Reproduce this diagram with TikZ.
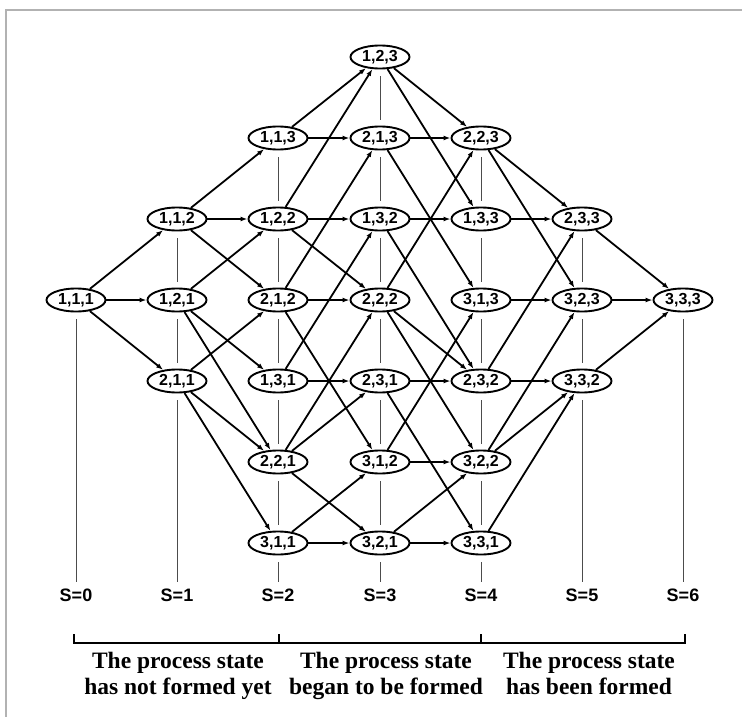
\documentclass[tikz,border=0pt]{standalone}
\usepackage{fontspec}
\setmainfont{Liberation Serif}
\setsansfont{Liberation Sans}
\usetikzlibrary{arrows.meta,shapes.geometric}
\begin{document}
\begin{tikzpicture}[x=1pt,y=-1pt,
  st/.style={ellipse,draw,line width=1.9pt,minimum width=59pt,minimum height=23pt,inner sep=0pt,
    font=\sffamily\bfseries\fontsize{16}{16}\selectfont},
  edge/.style={line width=1.8pt,-{Latex[length=7pt,width=5pt]}},
  guide/.style={line width=1pt,draw=black!70,shorten <=7pt,shorten >=6pt},
  slabel/.style={inner sep=0pt,font=\sffamily\bfseries\fontsize{18}{18}\selectfont},
  phase/.style={inner sep=0pt,anchor=north,align=center,
    font=\rmfamily\bfseries\fontsize{23.5}{26}\selectfont},
  frame/.style={draw=black!30,line width=1.5pt},
  bracket/.style={line width=2.2pt}]
\useasboundingbox (0,0) rectangle (742,717);
\draw[frame] (6,717) -- (6,10) -- (742,10);
% S=0
\node[st] (n111) at (76,300) {1,1,1};
% S=1
\node[st] (n112) at (177,219) {1,1,2};
\node[st] (n121) at (177,300) {1,2,1};
\node[st] (n211) at (177,381) {2,1,1};
% S=2
\node[st] (n113) at (278,138) {1,1,3};
\node[st] (n122) at (278,219) {1,2,2};
\node[st] (n212) at (278,300) {2,1,2};
\node[st] (n131) at (278,381) {1,3,1};
\node[st] (n221) at (278,462) {2,2,1};
\node[st] (n311) at (278,543) {3,1,1};
% S=3
\node[st] (n123) at (380,57) {1,2,3};
\node[st] (n213) at (380,138) {2,1,3};
\node[st] (n132) at (380,219) {1,3,2};
\node[st] (n222) at (380,300) {2,2,2};
\node[st] (n231) at (380,381) {2,3,1};
\node[st] (n312) at (380,462) {3,1,2};
\node[st] (n321) at (380,543) {3,2,1};
% S=4
\node[st] (n223) at (481,138) {2,2,3};
\node[st] (n133) at (481,219) {1,3,3};
\node[st] (n313) at (481,300) {3,1,3};
\node[st] (n232) at (481,381) {2,3,2};
\node[st] (n322) at (481,462) {3,2,2};
\node[st] (n331) at (481,543) {3,3,1};
% S=5
\node[st] (n233) at (582,219) {2,3,3};
\node[st] (n323) at (582,300) {3,2,3};
\node[st] (n332) at (582,381) {3,3,2};
% S=6
\node[st] (n333) at (683,300) {3,3,3};
% S labels
\node[slabel] (s0) at (76,595) {S=0};
\node[slabel] (s1) at (177,595) {S=1};
\node[slabel] (s2) at (278,595) {S=2};
\node[slabel] (s3) at (380,595) {S=3};
\node[slabel] (s4) at (481,595) {S=4};
\node[slabel] (s5) at (582,595) {S=5};
\node[slabel] (s6) at (683,595) {S=6};
% guide lines
\foreach \a/\b in {n111/s0,
  n112/n121,n121/n211,n211/s1,
  n113/n122,n122/n212,n212/n131,n131/n221,n221/n311,n311/s2,
  n123/n213,n213/n132,n132/n222,n222/n231,n231/n312,n312/n321,n321/s3,
  n223/n133,n133/n313,n313/n232,n232/n322,n322/n331,n331/s4,
  n233/n323,n323/n332,n332/s5,
  n333/s6}
  \draw[guide] (\a) -- (\b);
% transitions
\foreach \a/\b in {111/211,111/121,111/112,
  112/212,112/122,112/113,
  121/221,121/131,121/122,
  211/311,211/221,211/212,
  113/213,113/123,
  122/222,122/132,122/123,
  212/312,212/222,212/213,
  131/231,131/132,
  221/321,221/231,221/222,
  311/321,311/312,
  123/223,123/133,
  213/313,213/223,
  132/232,132/133,
  222/322,222/232,222/223,
  231/331,231/232,
  312/322,312/313,
  321/331,321/322,
  223/323,223/233,
  133/233,
  313/323,
  232/332,232/233,
  322/332,322/323,
  331/332,
  233/333,323/333,332/333}
  \draw[edge] (n\a) -- (n\b);
% bracket
\draw[bracket] (74,634) -- (74,643) -- (685,643) -- (685,634);
\draw[bracket] (279,643) -- (279,634);
\draw[bracket] (481,643) -- (481,634);
% phase texts
\node[phase] (p1) at (178,652) {The process state\\has not formed yet};
\node[phase] (p2) at (386,652) {The process state\\began to be formed};
\node[phase] (p3) at (589,652) {The process state\\has been formed};
\end{tikzpicture}
\end{document}
